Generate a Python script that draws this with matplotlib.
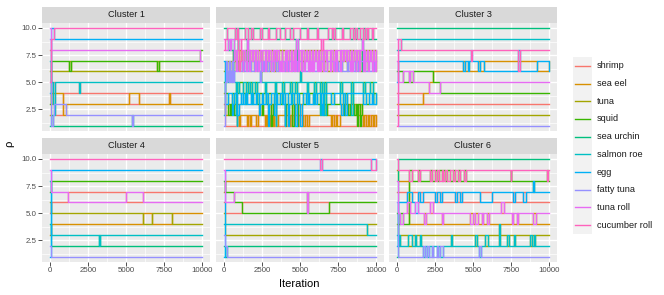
import matplotlib
matplotlib.use("Agg")
import matplotlib.pyplot as plt
from matplotlib.patches import Rectangle
import numpy as np

plt.rcParams['font.family'] = ['Liberation Sans', 'DejaVu Sans']

# ---------------- data ----------------
items = ["shrimp", "sea eel", "tuna", "squid", "sea urchin",
         "salmon roe", "egg", "fatty tuna", "tuna roll", "cucumber roll"]
item_colors = ["#F8766D", "#D89000", "#A3A500", "#39B600", "#00BF7D",
               "#00BFC4", "#00B0F6", "#9590FF", "#E76BF3", "#FF62BC"]
cluster_names = ["Cluster 1", "Cluster 2", "Cluster 3",
                 "Cluster 4", "Cluster 5", "Cluster 6"]
n_iter = 10000
burn_in = 100
x_ticks = [0, 2500, 5000, 7500, 10000]
x_tick_labels = ["0", "2500", "5000", "7500", "10000"]
y_ticks = [2.5, 5.0, 7.5, 10.0]
y_tick_labels = ["2.5", "5.0", "7.5", "10.0"]

# ranks (item order as in `items`) at the start and the settled ranks
c1_init = [8, 2, 6, 3, 1, 7, 4, 9, 10, 5]
c1_rank = [4, 3, 6, 7, 1, 5, 9, 2, 8, 10]
# rank pairs that swap; each list holds the iterations where the swap toggles
c1_swaps = {(10, 9): [100, 300],
            (7, 6): [1300, 1400, 7020, 7150],
            (8, 7): [9870, 10000],
            (5, 4): [240, 350, 1890, 1980],
            (4, 3): [100, 890, 5200, 5850, 7800, 7850],
            (3, 2): [300, 1100],
            (2, 1): [100, 200, 5400, 5450]}

c2_init = [3, 4, 6, 5, 10, 2, 7, 1, 9, 8]
c2_rank = [1, 2, 7, 4, 10, 5, 3, 6, 8, 9]
c2_swaps = {
    (10, 9): [250, 720, 850, 950, 1400, 1600, 1820, 1950, 2360, 2500, 2900, 3000,
              3450, 3670, 4000, 4320, 4540, 4980, 5440, 5550, 6090, 6200, 6850,
              7070, 7180, 7290, 7720, 7830, 8270, 8490, 8600, 8710, 8920, 9140,
              9250, 9360, 9470, 9690, 9800, 10000],
    (9, 8): [300, 400, 500, 650, 940, 1160, 1500, 1600, 4750, 4850, 6400, 6480,
             9030, 9140],
    (8, 7): [620, 700, 820, 870, 1010, 1130, 1250, 1290, 1420, 1560, 1640, 1700,
             1850, 1930, 2050, 2120, 2230, 2400, 2480, 2530, 2690, 2760, 2880,
             2950, 3080, 3200, 3270, 3330, 3460, 3520, 3640, 3790, 3850, 3990,
             4100, 4180, 4260, 4390, 4450, 4610, 4690, 4780, 4890, 4960, 5080,
             5150, 5290, 5370, 5480, 5600, 5660, 5790, 5850, 5980, 6050, 6170,
             6240, 6380, 6510, 6560, 6690, 6800, 6940, 7010, 7150, 7260, 7380,
             7440, 7590, 7670, 7800, 7880, 8020, 8090, 8210, 8330, 8400, 8520,
             8640, 8730, 8850, 8960, 9050, 9180, 9240, 9370, 9450, 9590, 9650,
             9780, 9860, 9950],
    (7, 6): [150, 230, 340, 410, 560, 640, 780, 900, 990, 1080, 1200, 1340, 1470,
             1530, 1690, 1790, 1980, 2090, 2170, 2310, 2440, 2600, 2650, 2830,
             2990, 3120, 3230, 3400, 3570, 3700, 3760, 3920, 4050, 4220, 4300,
             4490, 4580, 4720, 4830, 5100, 5230, 5330, 5520, 5700, 5760, 5890,
             6130, 6280, 6340, 6600, 6740, 7200, 7310, 7480, 7620, 7750, 8100,
             8170, 8290, 8450, 8580, 8680, 8790, 9280, 9420, 9530, 9700, 9820,
             9900],
    (6, 5): [100, 250, 330, 480, 550, 700, 2370, 2450, 4990, 5060],
    (5, 4): [820, 900, 1000, 1300, 1450, 1600, 1700, 1860, 2050, 2200, 2700,
             2800, 3350, 3450, 3800, 3950, 4350, 4500, 4700, 4800, 5450, 5550,
             5900, 6050, 6300, 6450, 6550, 6700, 7650, 7750, 8350, 8450, 9150,
             9250, 9600, 9750],
    (4, 3): [300, 560, 700, 900, 1120, 1250, 1400, 1500, 1800, 1900, 2100, 2300,
             2500, 2560, 2750, 2900, 3100, 3300, 3400, 3500, 3700, 3900, 4050,
             4200, 4400, 4600, 4800, 4950, 5200, 5400, 5500, 5600, 5850, 6000,
             6100, 6400, 6500, 7000, 7200, 7600, 7800, 7950, 8100, 9100, 9300,
             9500, 9700, 9800, 9950],
    (3, 2): [300, 400, 450, 600, 700, 1000, 2300, 2400, 2500, 2550, 2900, 3000,
             3100, 3200, 3300, 3450, 4000, 4100, 4200, 4300, 4500, 4600, 4700,
             4850, 5000, 5150, 6300, 6400, 6450, 6550, 6600, 6750, 7700, 7800,
             7900, 8050, 8150, 8250, 8350, 8450, 8550, 8650, 8700, 8800, 8900,
             9050],
    (2, 1): [850, 900, 1000, 1100, 1500, 1600, 1700, 1800, 2100, 2250, 2700,
             2800, 2850, 2950, 3050, 3150, 3200, 3300, 3400, 3550, 4000, 4100,
             4200, 4350, 4450, 4600, 4700, 4900, 5000, 5100, 5200, 5350, 5450,
             5600, 7000, 7100, 7200, 7350, 7450, 7600, 8700, 8800, 8900, 9000,
             9100, 9200, 9350, 9450, 9550, 9650, 9750, 9850, 9950, 10000]}

c3_init = [4, 3, 2, 6, 10, 8, 5, 9, 7, 1]
c3_rank = [3, 6, 2, 4, 10, 9, 7, 1, 5, 8]
c3_swaps = {(9, 8): [100, 300],
            (3, 6): [100, 1700],
            (6, 4): [100, 2400],
            (5, 4): [2140, 2840],
            (6, 5): [430, 800, 900, 1090],
            (8, 7): [4850, 4960, 7950, 8050],
            (7, 6): [4370, 4480, 4650, 4760, 5350, 5460, 5690, 9170, 9950, 10000]}

c4_init = [5, 3, 6, 7, 4, 8, 1, 2, 9, 10]
c4_rank = [7, 5, 4, 8, 2, 3, 9, 1, 6, 10]
c4_swaps = {(7, 6): [100, 1217, 4978, 6109],
            (5, 4): [100, 6109, 6717, 8022],
            (3, 2): [3239, 3320]}

c5_init = [6, 7, 5, 8, 2, 4, 1, 3, 9, 10]
c5_rank = [5, 8, 4, 6, 2, 3, 9, 1, 7, 10]
c5_swaps = {(10, 9): [6280, 6420, 9630, 9950],
            (7, 6): [100, 650, 5450, 5550],
            (6, 5): [1200, 6900],
            (4, 3): [100, 9370],
            (2, 1): [100, 250]}

c6_init = [7, 9, 4, 5, 1, 3, 2, 6, 8, 10]
c6_rank = [6, 4, 3, 8, 10, 2, 7, 1, 5, 9]
c6_swaps = {
    (9, 8): [800, 980, 1420, 1500, 2180, 2290, 2510, 2620, 2790, 2950, 3060,
             3170, 3280, 3490, 3670, 3820, 4040, 4150, 4410, 4540, 7460, 7520,
             9850, 9920],
    (8, 4): [100, 800],
    (8, 7): [8960, 9000],
    (7, 6): [100, 650, 1030, 1420, 1530, 1700, 2510, 2660, 2840, 2950, 3820,
             3970, 4150, 4250, 5460, 6220, 7640, 7750, 8300, 8470],
    (6, 5): [700, 870, 1200, 1400, 2180, 2400, 6830, 7000],
    (5, 4): [220, 400, 1790, 1900, 2950, 3060, 4800, 4980, 5130, 5350, 5570,
             5680, 5900, 6070, 7530, 7640, 7860, 7950, 8950, 9100],
    (4, 2): [6700, 6760],
    (3, 2): [150, 250, 750, 990, 1200, 1300, 1530, 1600, 3540, 3600, 5150, 5260,
             5800, 6000, 7220, 7330, 7660, 7770, 8750, 8860, 8970, 9080],
    (2, 1): [1740, 1850, 2000, 2140, 2290, 2400, 2620, 2730, 2830, 3010, 5400,
             5500]}

clusters = [(c1_init, c1_rank, c1_swaps), (c2_init, c2_rank, c2_swaps),
            (c3_init, c3_rank, c3_swaps), (c4_init, c4_rank, c4_swaps),
            (c5_init, c5_rank, c5_swaps), (c6_init, c6_rank, c6_swaps)]


def build_trace(init, base, swaps):
    times = {0, burn_in, n_iter}
    for ts in swaps.values():
        times.update(t for t in ts if t <= n_iter)
    times = sorted(times)
    out = np.zeros((len(times), len(items)))
    for k, t in enumerate(times):
        if t < burn_in:
            r = list(init)
        else:
            r = list(base)
            for (ra, rb), ts in swaps.items():
                if sum(1 for s in ts if s <= t) % 2 == 1:
                    ia, ib = r.index(ra), r.index(rb)
                    r[ia], r[ib] = rb, ra
        out[k] = r
    out[-1] = out[-2]
    return np.array(times), out


# ---------------- layout ----------------
W, H = 664, 295
fig = plt.figure(figsize=(W / 100, H / 100), dpi=100)
fig.patch.set_facecolor("white")


def px_axes(x0, y0, x1, y1):
    return fig.add_axes([x0 / W, 1 - y1 / H, (x1 - x0) / W, (y1 - y0) / H])


col_x = [(42, 210), (216, 384), (389, 557)]
row_y = [(23.1, 130.5), (154.1, 261.5)]
strip_h = 16.5
lw = 1.0

for idx, (init, base, swaps) in enumerate(clusters):
    r, c = divmod(idx, 3)
    x0, x1 = col_x[c]
    y0, y1 = row_y[r]
    ax = px_axes(x0, y0, x1, y1)
    ax.set_facecolor("#EBEBEB")
    for s in ax.spines.values():
        s.set_visible(False)
    times, ranks = build_trace(init, base, swaps)
    for i, name in enumerate(items):
        ax.step(times, ranks[:, i], where="post", color=item_colors[i],
                lw=lw, zorder=3, solid_joinstyle="miter")
    ax.set_xlim(-500, 10500)
    ax.set_ylim(0.55, 10.45)
    ax.set_xticks(x_ticks)
    ax.set_yticks(y_ticks)
    ax.set_xticks([1250, 3750, 6250, 8750], minor=True)
    ax.set_yticks([1.25, 3.75, 6.25, 8.75], minor=True)
    ax.grid(which="major", color="white", lw=1.0, zorder=1)
    ax.grid(which="minor", color="white", lw=0.5, zorder=1)
    ax.set_axisbelow(True)
    ax.tick_params(which="minor", length=0)
    ax.tick_params(which="major", length=2.6, width=0.6, color="#333333",
                   labelsize=5.7, labelcolor="#4D4D4D", pad=1.5)
    if c == 0:
        ax.set_yticklabels(y_tick_labels)
    else:
        ax.tick_params(axis="y", which="major", left=False, labelleft=False)
    if r == 1:
        ax.set_xticklabels(x_tick_labels)
    else:
        ax.tick_params(axis="x", which="major", bottom=False, labelbottom=False)

    sax = px_axes(x0, y0 - strip_h, x1, y0)
    sax.set_facecolor("#D9D9D9")
    sax.set_xticks([])
    sax.set_yticks([])
    for s in sax.spines.values():
        s.set_visible(False)
    sax.text(0.5, 0.5, cluster_names[idx], ha="center", va="center",
             fontsize=6.6, color="#1A1A1A", transform=sax.transAxes)

# axis titles
fig.text(299.5 / W, 1 - 284 / H, "Iteration", ha="center", va="center",
         fontsize=8, color="black")
fig.text(9 / W, 1 - 144 / H, "ρ", ha="center", va="center", rotation=90,
         fontsize=8, color="black")

# legend
lax = px_axes(560, 50, 664, 245)
lax.set_xlim(560, 664)
lax.set_ylim(245, 50)
lax.axis("off")
key_top = 57.0
key_h = 17.7
lax.add_patch(Rectangle((573, key_top), 19, key_h * len(items),
                        facecolor="#F2F2F2", edgecolor="none"))
for i, name in enumerate(items):
    yc = key_top + key_h * (i + 0.5)
    lax.plot([575, 590], [yc, yc], color=item_colors[i], lw=lw)
    lax.text(597, yc, name, ha="left", va="center", fontsize=6.6,
             color="#1A1A1A")

fig.savefig("out.png", dpi=100, facecolor="white")
